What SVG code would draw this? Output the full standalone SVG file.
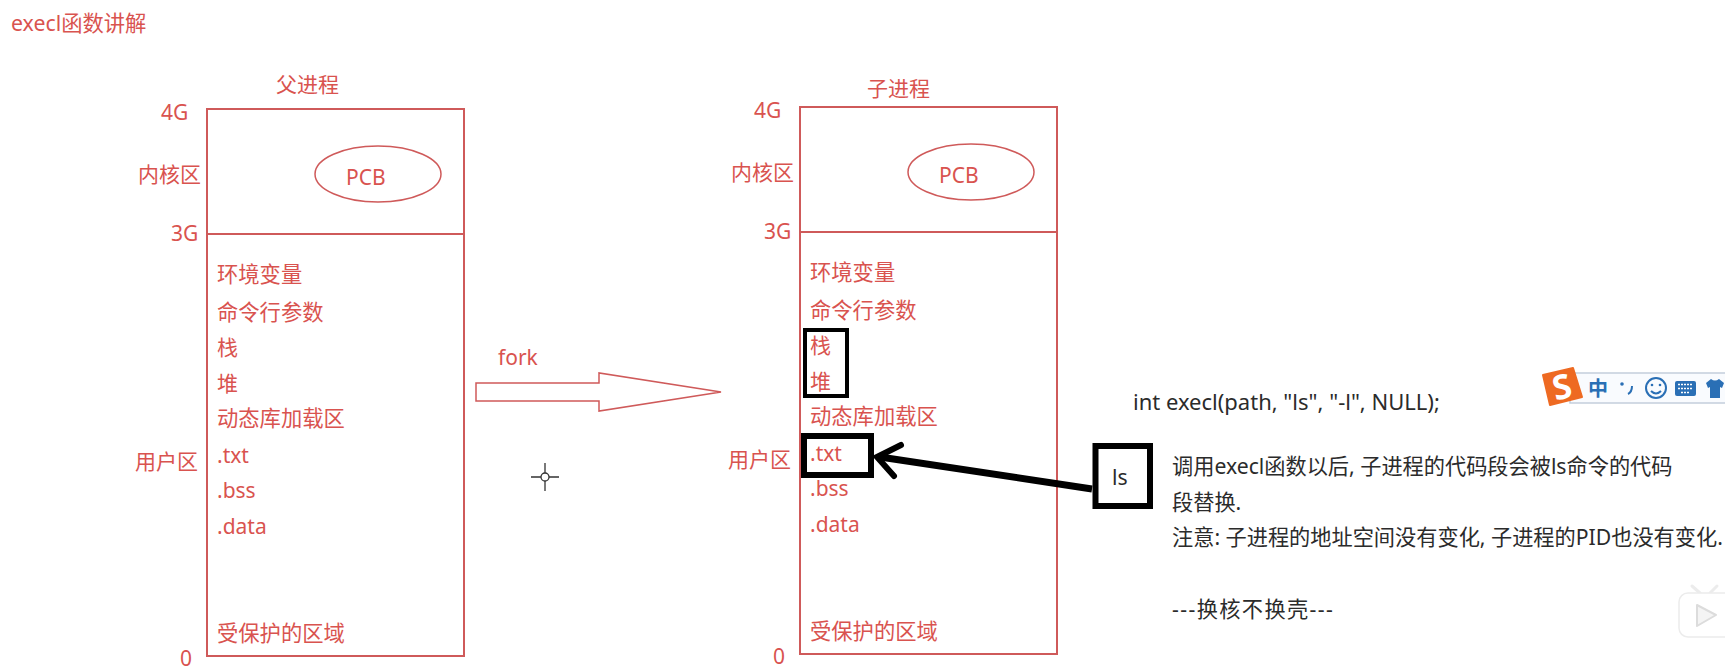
<svg xmlns="http://www.w3.org/2000/svg" width="1725" height="669" viewBox="0 0 1725 669">
<style>
text{font-family:"Noto Sans","Noto Sans CJK SC",sans-serif;font-size:21px;fill:#d9534f}
.k{fill:#2b2b2b;font-size:21.2px}
.box{fill:none;stroke:#cf5a5a;stroke-width:2}
.thin{fill:none;stroke:#cf5a5a;stroke-width:1.5}
.blk{fill:none;stroke:#000}
.ime{fill:#2a6fb5;stroke:none}
.iml{fill:none;stroke:#2a6fb5;stroke-width:2}
</style>
<defs>
<g id="proc">
<rect class="box" x="207" y="109" width="257" height="547"/>
<line class="box" x1="207" y1="234" x2="464" y2="234"/>
<ellipse class="thin" cx="378" cy="174" rx="63" ry="28"/>
<text x="346" y="185">PCB</text>
<text x="161" y="120">4G</text>
<text x="138" y="182">内核区</text>
<text x="171" y="241">3G</text>
<text x="135" y="469">用户区</text>
<text x="180" y="666">0</text>
<text x="217" y="282" style="font-size:21.3px">环境变量</text>
<text x="217" y="320" style="font-size:21.3px">命令行参数</text>
<text x="217" y="355">栈</text>
<text x="217" y="391">堆</text>
<text x="217" y="426" style="font-size:21.3px">动态库加载区</text>
<text x="217" y="463">.txt</text>
<text x="217" y="498">.bss</text>
<text x="217" y="534">.data</text>
<text x="217" y="641" style="font-size:21.3px">受保护的区域</text>
</g>
</defs>
<rect width="1725" height="669" fill="#fff"/>
<text id="title" x="11" y="31" style="font-size:21.3px">execl函数讲解</text>
<g id="parent"><text x="276" y="92">父进程</text><use href="#proc"/></g>
<g id="child"><text x="867" y="96">子进程</text><use href="#proc" x="593" y="-2"/></g>
<g id="connectors">
<path class="thin" d="M476 383H599V373L721 392L599 411V401H476Z"/>
<path class="blk" stroke-width="7" d="M1092 489L880 457"/>
<path class="blk" stroke-width="6" stroke-linecap="round" d="M901 445L877 457L894 476"/>
</g>
<text id="fork" x="498" y="365">fork</text>
<g id="stack-heap"><rect class="blk" stroke-width="4" x="805" y="330" width="42" height="66"/></g>
<g id="txt-box"><rect class="blk" stroke-width="6" x="804" y="436" width="67" height="39"/></g>
<g id="ls"><rect class="blk" stroke-width="6" x="1095.5" y="446" width="54.5" height="60"/><text class="k" x="1112" y="485">ls</text></g>
<g id="notes">
<text class="k" x="1133" y="410" style="font-size:22px">int execl(path, "ls", "-l", NULL);</text>
<text class="k" x="1172" y="474">调用execl函数以后, 子进程的代码段会被ls命令的代码</text>
<text class="k" x="1172" y="510">段替换.</text>
<text class="k" x="1172" y="545">注意: 子进程的地址空间没有变化, 子进程的PID也没有变化.</text>
<text class="k" x="1172" y="617" style="letter-spacing:1.4px">---换核不换壳---</text>
</g>
<g id="cursor" stroke="#333" stroke-width="1.3" fill="none"><circle cx="545" cy="477" r="4"/><path d="M531 477H541M549 477H559M545 463V473M545 481V491"/></g>
<g id="ime-bar">
<rect x="1570" y="373" width="160" height="30" fill="#f9fbfe" stroke="#c3cedb" stroke-width="1.5"/>
<polygon points="1543,375 1573,368 1582,397 1550,405" fill="#ee6a22" stroke="#ee6a22" stroke-width="2" stroke-linejoin="round"/>
<text x="1562" y="399" text-anchor="middle" transform="rotate(-13 1562 387)" style="font-size:34px;font-weight:700;fill:#fff">S</text>
<text x="1588" y="396" style="font-size:20px;font-weight:700;fill:#2a6fb5">中</text>
<circle class="ime" cx="1622" cy="384" r="1.8"/>
<path class="iml" d="M1632 386Q1632 392 1628 394"/>
<circle class="iml" cx="1656" cy="388" r="10"/>
<circle class="ime" cx="1652" cy="385" r="1.3"/><circle class="ime" cx="1660" cy="385" r="1.3"/>
<path class="iml" stroke-width="1.5" d="M1651 391Q1656 396 1661 391"/>
<rect class="ime" x="1675" y="381" width="21" height="15" rx="2"/>
<path d="M1678 384.5H1693M1678 388.5H1693M1681 392.5H1690" stroke="#fff" stroke-width="1.6" stroke-dasharray="2 1" fill="none"/>
<path class="ime" d="M1711 379L1706 383L1708 388L1710 387V398H1720V387L1722 388L1724 383L1719 379Q1715 382 1711 379Z"/>
</g>
<g id="play-button">
<path d="M1692 586L1700 593M1717 586L1710 593" stroke="#ececec" stroke-width="3" stroke-linecap="round" fill="none"/>
<rect x="1679" y="593" width="60" height="44" rx="9" fill="#fff" stroke="#ececec" stroke-width="1.5"/>
<path d="M1697 605L1716 615L1697 626Z" fill="#f4f4f4" stroke="#dcdcdc" stroke-width="2" stroke-linejoin="round"/>
</g>
</svg>
